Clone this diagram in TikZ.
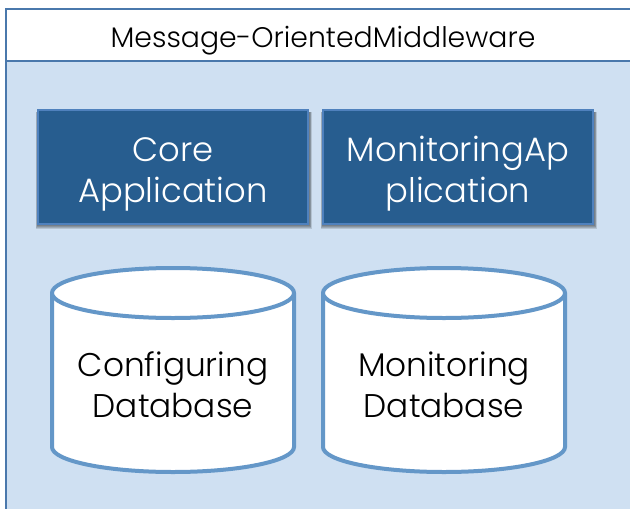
\documentclass[tikz,border=0pt]{standalone}
\usepackage{fontspec}
\usepackage{xcolor}
\setmainfont{Poppins Light}
\definecolor{frameBlue}{HTML}{4A78AC}
\definecolor{paleBlue}{HTML}{CFE0F2}
\definecolor{darkBlue}{HTML}{275D8F}
\definecolor{edgeBlue}{HTML}{4F81BD}
\definecolor{dbBlue}{HTML}{6497C8}
\tikzset{
    appbox/.style={draw=edgeBlue, line width=1.5pt, fill=darkBlue, minimum width=270pt, minimum height=114pt},
    apptext/.style={align=center, text=white, font=\fontsize{33.8}{41}\selectfont},
    dbtext/.style={align=center, text=black, font=\fontsize{32.8}{41}\selectfont},
    dbline/.style={draw=dbBlue, line width=4pt, fill=white}
}
\begin{document}
\begin{tikzpicture}[x=1pt, y=-1pt]
    \useasboundingbox (0,0) rectangle (630,509);
    \fill [white] (0,0) rectangle (630,509);
    \fill [paleBlue] (6,61) rectangle (631,510);
    \draw [frameBlue, line width=1.5pt] (632,9) -- (6,9) -- (6,511);
    \draw [frameBlue, line width=1.5pt] (6,61) -- (632,61);
    \node (titleMom) at (323,41) {\fontsize{28.3}{30}\selectfont Message-OrientedMiddleware};
    % soft shadows under the boxes
    \foreach \s in {0,1,2,3} {
        \fill [black, opacity=0.13] (37-\s/2,112) rectangle (310+\s/2,226+\s);
        \fill [black, opacity=0.13] (322-\s/2,112) rectangle (595+\s/2,226+\s);
    }
    \node [appbox] (coreBox) at (173,167) {};
    \node [appbox] (monitorBox) at (458,167) {};
    \node [apptext] (coreApp) at (173,174) {Core\\Application};
    \node [apptext] (monitorApp) at (458,174) {MonitoringAp\\plication};
    % databases
    \def\dbLeft{(52,293) -- (52,447) arc [start angle=180, end angle=0, x radius=121, y radius=25] -- (294,293) arc [start angle=0, end angle=-180, x radius=121, y radius=25] -- cycle}
    \def\dbLeftTop{(52,293) arc [start angle=180, end angle=0, x radius=121, y radius=25]}
    \def\dbRight{(323,293) -- (323,447) arc [start angle=180, end angle=0, x radius=121, y radius=25] -- (565,293) arc [start angle=0, end angle=-180, x radius=121, y radius=25] -- cycle}
    \def\dbRightTop{(323,293) arc [start angle=180, end angle=0, x radius=121, y radius=25]}
    \draw [dbline] \dbLeft;
    \draw [dbline] \dbLeftTop;
    \draw [dbline] \dbRight;
    \draw [dbline] \dbRightTop;
    \node [dbtext] (configDb) at (173,385) {Configuring\\Database};
    \node [dbtext] (monitorDb) at (444,385) {Monitoring\\Database};
\end{tikzpicture}
\end{document}
